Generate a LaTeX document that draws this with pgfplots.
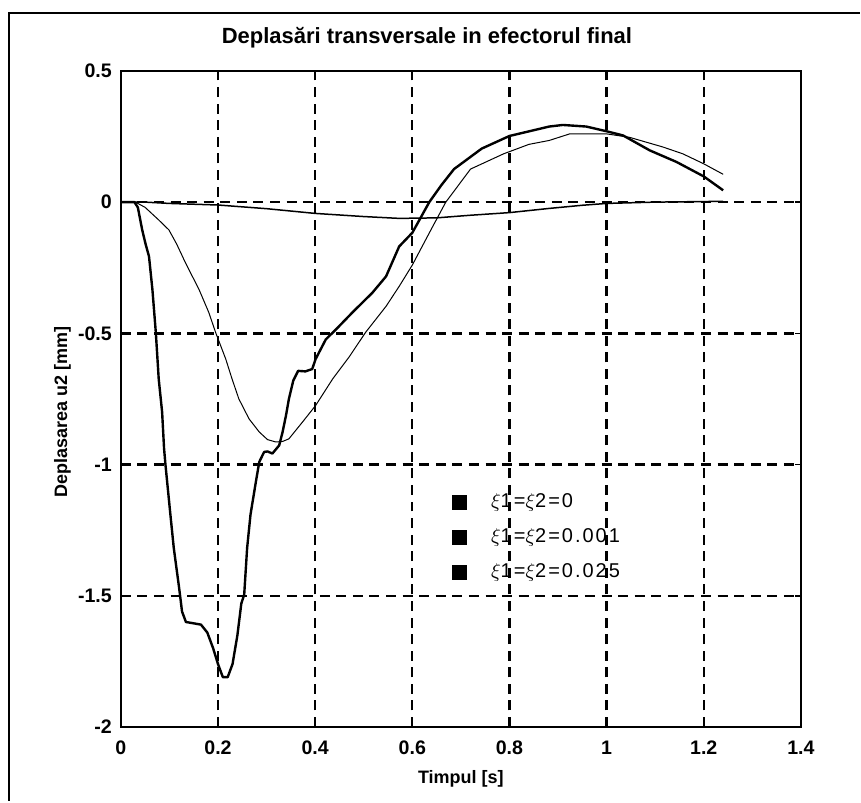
\documentclass[border=0pt]{standalone}
\usepackage{pgfplots}
\pgfplotsset{compat=1.18}
\usepackage{fontspec}
\setmainfont{Liberation Sans}

\begin{document}
\begin{tikzpicture}
\begin{axis}[name=ax, scale only axis, width=340.5pt, height=328.5pt,
  xmin=0, xmax=1.4, ymin=-2, ymax=0.5,
  xtick={0,0.2,0.4,0.6,0.8,1,1.2,1.4},
  ytick={-2,-1.5,-1,-0.5,0,0.5},
  xtick pos=both, ytick pos=both,
  tick align=inside, major tick length=3pt,
  tick style={black, line width=0.8pt},
  axis line style={line width=1.3pt},
  grid=major,
  grid style={black, line width=1.2pt, dash pattern=on 5pt off 3.3pt},
  /pgf/number format/assume math mode=true,
  tick label style={font=\fontsize{9.8}{11}\selectfont\bfseries},
  xticklabel style={yshift=-3.5pt},
  yticklabel style={xshift=-1pt},
  title={Deplasări transversale in efectorul final},
  title style={font=\fontsize{11}{13}\selectfont\bfseries, at={(rel axis cs:0.5,1)}, anchor=center, xshift=-17pt, yshift=10.5pt},
  xlabel={Timpul [s]},
  xlabel style={font=\small\bfseries, at={(rel axis cs:0.5,0)}, anchor=center, yshift=-26pt},
  ylabel={Deplasarea u2 [mm]},
  every axis y label/.style={font=\small\bfseries, at={(axis cs:-0.12,-0.8)}, anchor=center, rotate=90},
  legend style={at={(rel axis cs:0.464,0.368)}, anchor=north west, draw=none, fill=none,
    font=\normalsize\addfontfeatures{LetterSpace=10}, row sep=5pt},
  legend cell align=left,
  legend image code/.code={\draw[#1] plot coordinates {(0.3cm,0cm)}; \path[draw=none] (0cm,0cm) -- (0.78cm,0cm);},
]
\addlegendimage{only marks, mark=square*, mark size=3.5pt, black}
\addlegendimage{only marks, mark=square*, mark size=3.5pt, black}
\addlegendimage{only marks, mark=square*, mark size=3.5pt, black}

% xi1 = xi2 = 0
\addplot[black, line width=1.2pt, line join=round, forget plot] coordinates {
(0,0) (0.028,0) (0.035,-0.02) (0.044,-0.106) (0.051,-0.16) (0.058,-0.207)
(0.065,-0.333) (0.072,-0.496) (0.078,-0.674) (0.085,-0.8) (0.089,-0.939)
(0.092,-1.003) (0.102,-1.19) (0.109,-1.318) (0.12,-1.47) (0.126,-1.56)
(0.134,-1.6) (0.15,-1.605) (0.165,-1.61) (0.178,-1.64) (0.19,-1.7)
(0.2,-1.76) (0.21,-1.81) (0.22,-1.81) (0.23,-1.76) (0.24,-1.65)
(0.248,-1.53) (0.254,-1.495) (0.26,-1.318) (0.267,-1.19) (0.278,-1.066)
(0.285,-0.99) (0.295,-0.952) (0.302,-0.95) (0.312,-0.958) (0.326,-0.927)
(0.333,-0.876) (0.34,-0.813) (0.346,-0.75) (0.355,-0.68) (0.365,-0.643)
(0.38,-0.645) (0.394,-0.636) (0.401,-0.598) (0.422,-0.523) (0.443,-0.485)
(0.477,-0.42) (0.518,-0.345) (0.546,-0.283) (0.573,-0.169) (0.6,-0.117)
(0.635,0) (0.66,0.065) (0.686,0.126) (0.743,0.204) (0.8,0.252)
(0.882,0.288) (0.91,0.294) (0.958,0.288) (1.0,0.27) (1.034,0.254)
(1.089,0.197) (1.144,0.153) (1.2,0.098) (1.24,0.045)
};
% xi1 = xi2 = 0.001
\addplot[black, line width=0.5pt, line join=round, forget plot] coordinates {
(0.03,0) (0.05,-0.02) (0.078,-0.068) (0.099,-0.106) (0.115,-0.16)
(0.133,-0.231) (0.161,-0.333) (0.181,-0.42) (0.195,-0.496) (0.216,-0.598)
(0.229,-0.674) (0.243,-0.75) (0.264,-0.826) (0.285,-0.876) (0.302,-0.905)
(0.319,-0.914) (0.333,-0.912) (0.346,-0.902) (0.374,-0.838) (0.401,-0.775)
(0.436,-0.674) (0.47,-0.59) (0.504,-0.496) (0.546,-0.397) (0.573,-0.321)
(0.6,-0.24) (0.64,-0.1) (0.669,0) (0.72,0.126) (0.788,0.184)
(0.84,0.22) (0.882,0.235) (0.924,0.26) (1.0,0.26) (1.047,0.247)
(1.116,0.21) (1.157,0.184) (1.2,0.146) (1.24,0.106)
};
% xi1 = xi2 = 0.025
\addplot[black, line width=0.75pt, line join=round, forget plot] coordinates {
(0,0) (0.05,0) (0.1,-0.005) (0.2,-0.011) (0.3,-0.025) (0.4,-0.043)
(0.5,-0.055) (0.573,-0.062) (0.65,-0.06) (0.72,-0.05) (0.8,-0.04)
(0.882,-0.024) (0.95,-0.012) (1.0,-0.005) (1.1,0) (1.24,0.003)
};
\legend{$\xi$1=$\xi$2=0, $\xi$1=$\xi$2=0.001, $\xi$1=$\xi$2=0.025}
\end{axis}
% outer figure frame (right and bottom sides fall outside the picture)
\draw[line width=1.2pt] ([xshift=-56pt,yshift=-37pt]ax.south west) -- ([xshift=-56pt,yshift=29pt]ax.north west) -- ([xshift=29.5pt,yshift=29pt]ax.north east);
\path ([xshift=-60.5pt,yshift=-37pt]ax.south west) rectangle ([xshift=29.5pt,yshift=35.5pt]ax.north east);
\end{tikzpicture}
\end{document}
